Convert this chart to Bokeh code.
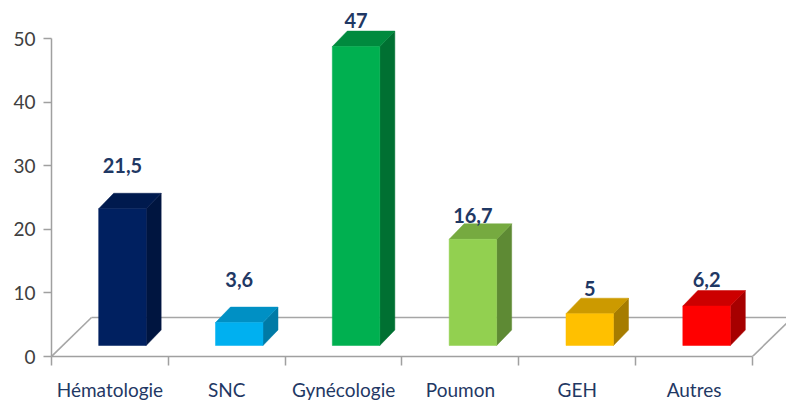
from bokeh.plotting import figure
from bokeh.models import Range1d, FixedTicker, ColumnDataSource
from bokeh.embed import file_html
from bokeh.resources import INLINE
from bokeh.core.properties import value

# ---- data ----
categories = ["Hématologie", "SNC", "Gynécologie", "Poumon", "GEH", "Autres"]
values = [21.5, 3.6, 47, 16.7, 5, 6.2]
value_labels = ["21,5", "3,6", "47", "16,7", "5", "6,2"]
y_ticks = [0, 10, 20, 30, 40, 50]

# ---- styles ----
front_colors = ["#002060", "#00B0F0", "#00B050", "#92D050", "#FFC000", "#FF0000"]
top_colors = ["#001A4E", "#0090C4", "#008A3E", "#76AA40", "#CC9A00", "#CC0000"]
side_colors = ["#001540", "#007AA6", "#007032", "#5E8A34", "#A67C00", "#A60000"]
label_lift_px = [43, 43, 26, 24, 25, 27]
FONT = "Lato"

# ---- layout (pixel geometry converted to data units) ----
W, H = 786, 405
FRAME_LEFT, FRAME_BOTTOM = 51, 356
PX_X = 116.83          # pixels per category
PX_Y = 6.36            # pixels per value unit
DEPTH_DX = 15 / PX_X
DEPTH_DY = 15.5 / PX_Y
BAR_SHIFT = 12.5 / PX_X
BAR_W = 47.5 / PX_X
BAR_BASE = 11 / PX_Y
FLOOR_DX = 40 / PX_X
FLOOR_DY = 39 / PX_Y

n = len(categories)
p = figure(width=W, height=H, output_backend="svg", toolbar_location=None,
           x_range=Range1d(0, (W - FRAME_LEFT) / PX_X),
           y_range=Range1d(0, FRAME_BOTTOM / PX_Y),
           min_border_left=FRAME_LEFT, min_border_right=0, min_border_top=0,
           min_border_bottom=H - FRAME_BOTTOM, x_axis_location="below")
p.grid.visible = False
p.outline_line_color = None
p.background_fill_color = "white"
p.border_fill_color = "white"

# floor outline
floor_color = "#A6A6A6"
p.line([FLOOR_DX, n + FLOOR_DX + 0.5], [FLOOR_DY, FLOOR_DY], line_color=floor_color, line_width=1.6)
p.line([0, FLOOR_DX], [0, FLOOR_DY], line_color=floor_color, line_width=1.6)
p.line([n, n + FLOOR_DX], [0, FLOOR_DY], line_color=floor_color, line_width=1.6)

# bars
fx, fy, tx, ty, sx, sy = [], [], [], [], [], []
lx, ly = [], []
for i, v in enumerate(values):
    L = i + 0.5 + BAR_SHIFT - BAR_W / 2
    R = L + BAR_W
    B = BAR_BASE
    T = BAR_BASE + v
    fx.append([L, R, R, L]); fy.append([B, B, T, T])
    tx.append([L, R, R + DEPTH_DX, L + DEPTH_DX]); ty.append([T, T, T + DEPTH_DY, T + DEPTH_DY])
    sx.append([R, R + DEPTH_DX, R + DEPTH_DX, R]); sy.append([B, B + DEPTH_DY, T + DEPTH_DY, T])
    lx.append(i + 0.5 + BAR_SHIFT)
    ly.append(T + label_lift_px[i] / PX_Y)

p.patches(sx, sy, fill_color=side_colors, line_color=side_colors, line_width=0.5)
p.patches(tx, ty, fill_color=top_colors, line_color=top_colors, line_width=0.5)
p.patches(fx, fy, fill_color=front_colors, line_color=front_colors, line_width=0.5)

src = ColumnDataSource(dict(x=lx, y=ly, t=value_labels))
p.text("x", "y", text="t", source=src, text_align="center", text_baseline="middle",
       text_font=value(FONT), text_font_style="bold",
       text_font_size="20px", text_color="#1F3864")

# y axis
ya = p.yaxis[0]
ya.ticker = FixedTicker(ticks=y_ticks)
ya.bounds = (0, 50)
ya.axis_line_color = "#A0A0A0"
ya.axis_line_width = 1.5
ya.major_tick_line_color = "#A0A0A0"
ya.major_tick_line_width = 1.5
ya.major_tick_out = 8
ya.major_tick_in = 0
ya.minor_tick_line_color = None
ya.major_label_text_font = FONT
ya.major_label_text_font_size = "19px"
ya.major_label_text_color = "#404040"
ya.major_label_standoff = 8

# x axis
xa = p.xaxis[0]
xa.ticker = FixedTicker(ticks=[i + 0.5 for i in range(n)], minor_ticks=list(range(n + 1)))
xa.major_label_overrides = {i + 0.5: c for i, c in enumerate(categories)}
xa.bounds = (0, n)
xa.axis_line_color = "#A0A0A0"
xa.axis_line_width = 1.5
xa.major_tick_line_color = None
xa.minor_tick_line_color = "#A0A0A0"
xa.minor_tick_line_width = 1.5
xa.minor_tick_out = 9
xa.minor_tick_in = 0
xa.major_tick_out = 9
xa.major_label_text_font = FONT
xa.major_label_text_font_size = "19px"
xa.major_label_text_color = "#1F3864"
xa.major_label_standoff = 12

open("out.html", "w").write(file_html(p, INLINE))
